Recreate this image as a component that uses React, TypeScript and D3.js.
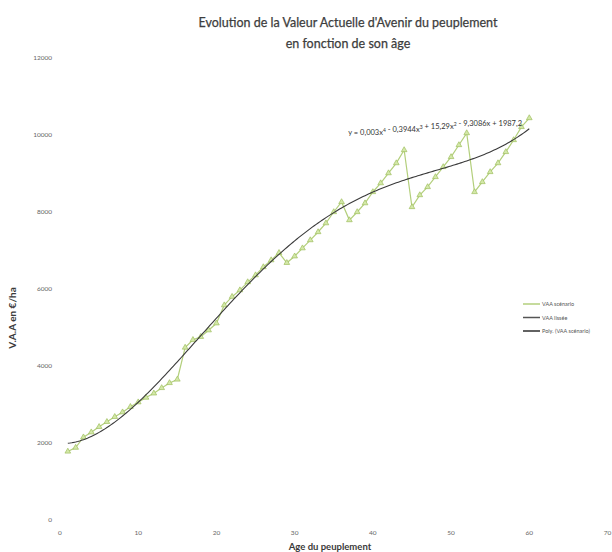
import React, { useEffect, useRef } from "react";
import * as d3 from "d3";

// VAA scénario, ages 1..60 (€/ha)
const ages = d3.range(1, 61);
const vaaScenario = [
  1780, 1880, 2150, 2280, 2420, 2550, 2680, 2800, 2940, 3060,
  3180, 3290, 3430, 3560, 3650, 4480, 4680, 4760, 4930, 5110,
  5580, 5800, 5970, 6180, 6360, 6570, 6750, 6940, 6680, 6850,
  7060, 7270, 7480, 7710, 8000, 8260, 7790, 8000, 8230, 8520,
  8750, 9010, 9270, 9610, 8130, 8440, 8650, 8910, 9170, 9430,
  9740, 10050, 8520, 8780, 9040, 9270, 9560, 9870, 10210, 10440,
];
// trendline coefficients (x^4 .. x^0)
const polyCoefs = [0.003, -0.3944, 15.29, -9.3086, 1987.2];
const xTicks = [0, 10, 20, 30, 40, 50, 60, 70];
const yTicks = [0, 2000, 4000, 6000, 8000, 10000, 12000];
const legendItems = ["VAA scénario", "VAA lissée", "Poly. (VAA scénario)"];
const legendColors = ["#b3cf7c", "#555555", "#2e2e2e"];

const W = 612;
const H = 552;
const FONT = "Lato, 'Open Sans', sans-serif";

const App: React.FC = () => {
  const svgRef = useRef<SVGSVGElement | null>(null);

  useEffect(() => {
    if (!svgRef.current) return;
    const svg = d3.select(svgRef.current);
    svg.selectAll("*").remove();

    const x = d3.scaleLinear().domain([0, 70]).range([60, 607.5]);
    const y = d3.scaleLinear().domain([0, 12000]).range([520, 58]);

    // title
    ["Evolution de la Valeur Actuelle d'Avenir du peuplement", "en fonction de son âge"].forEach((t, i) => {
      svg.append("text")
        .attr("x", 348).attr("y", 27 + i * 21)
        .attr("text-anchor", "middle")
        .style("font-family", FONT).style("font-size", "12.5px")
        .style("fill", "#3d3d3d")
        .style("stroke", "#3d3d3d").style("stroke-width", 0.25)
        .text(t);
    });

    // y tick labels
    svg.selectAll(".ytick")
      .data(yTicks)
      .enter()
      .append("text")
      .attr("x", 52)
      .attr("y", (d: number) => y(d) + 2)
      .attr("text-anchor", "end")
      .style("font-family", FONT).style("font-size", "6.5px")
      .style("fill", "#666")
      .text((d: number) => d);

    // x tick labels
    svg.selectAll(".xtick")
      .data(xTicks)
      .enter()
      .append("text")
      .attr("x", (d: number) => x(d))
      .attr("y", 535)
      .attr("text-anchor", "middle")
      .style("font-family", FONT).style("font-size", "6.5px")
      .style("fill", "#666")
      .text((d: number) => d);

    // axis titles
    svg.append("text")
      .attr("transform", "translate(16,318) rotate(-90)")
      .attr("text-anchor", "middle")
      .style("font-family", FONT).style("font-size", "10px")
      .style("font-weight", "bold")
      .style("fill", "#3a3a3a")
      .text("V.A.A en €/ha");
    svg.append("text")
      .attr("x", 330).attr("y", 550)
      .attr("text-anchor", "middle")
      .style("font-family", FONT).style("font-size", "9.5px")
      .style("font-weight", "bold")
      .style("fill", "#3a3a3a")
      .text("Age du peuplement");

    // scenario line
    const pts = ages.map((a, i) => [a, vaaScenario[i]] as [number, number]);
    const line = d3.line<[number, number]>()
      .x((d) => x(d[0]))
      .y((d) => y(d[1]));
    svg.append("path")
      .attr("d", line(pts)!)
      .style("fill", "none")
      .style("stroke", "#b3cf7c")
      .style("stroke-width", 1.2);

    // triangle markers
    const tri = d3.symbol().type(d3.symbolTriangle).size(14);
    svg.selectAll(".marker")
      .data(pts)
      .enter()
      .append("path")
      .attr("d", tri()!)
      .attr("transform", (d: [number, number]) => `translate(${x(d[0])},${y(d[1])})`)
      .style("fill", "#d3e8a8")
      .style("stroke", "#9fbf5e")
      .style("stroke-width", 0.7);

    // polynomial trendline
    const poly = (a: number) =>
      polyCoefs.reduce((acc, c) => acc * a + c, 0);
    const trendPts = d3.range(1, 60.01, 0.25).map((a) => [a, poly(a)] as [number, number]);
    svg.append("path")
      .attr("d", line(trendPts)!)
      .style("fill", "none")
      .style("stroke", "#3a3a3a")
      .style("stroke-width", 1.1);

    // equation label
    const eq = svg.append("text")
      .attr("x", 522).attr("y", 135)
      .attr("text-anchor", "end")
      .style("font-family", FONT).style("font-size", "7.5px")
      .style("fill", "#333");
    const parts: [string, string][] = [
      ["y = 0,003x", "4"], [" - 0,3944x", "3"], [" + 15,29x", "2"], [" - 9,3086x + 1987,2", ""],
    ];
    parts.forEach(([t, sup]) => {
      eq.append("tspan").text(t);
      if (sup) {
        eq.append("tspan").attr("dy", -3).style("font-size", "5px").text(sup);
        eq.append("tspan").attr("dy", 3).text("");
      }
    });

    // legend
    const lg = svg.append("g");
    legendItems.forEach((name, i) => {
      const ly = 304 + i * 13.5;
      lg.append("line")
        .attr("x1", 523).attr("x2", 540)
        .attr("y1", ly).attr("y2", ly)
        .style("stroke", legendColors[i])
        .style("stroke-width", 1.5);
      lg.append("text")
        .attr("x", 542).attr("y", ly + 2)
        .style("font-family", FONT).style("font-size", "5.5px")
        .style("fill", "#555")
        .text(name);
    });
  }, []);

  return (
    <div style={{ position: "absolute", left: 0, top: 0, width: W, height: H, background: "#fff" }}>
      <svg ref={svgRef} width={W} height={H}></svg>
    </div>
  );
};

export default App;
